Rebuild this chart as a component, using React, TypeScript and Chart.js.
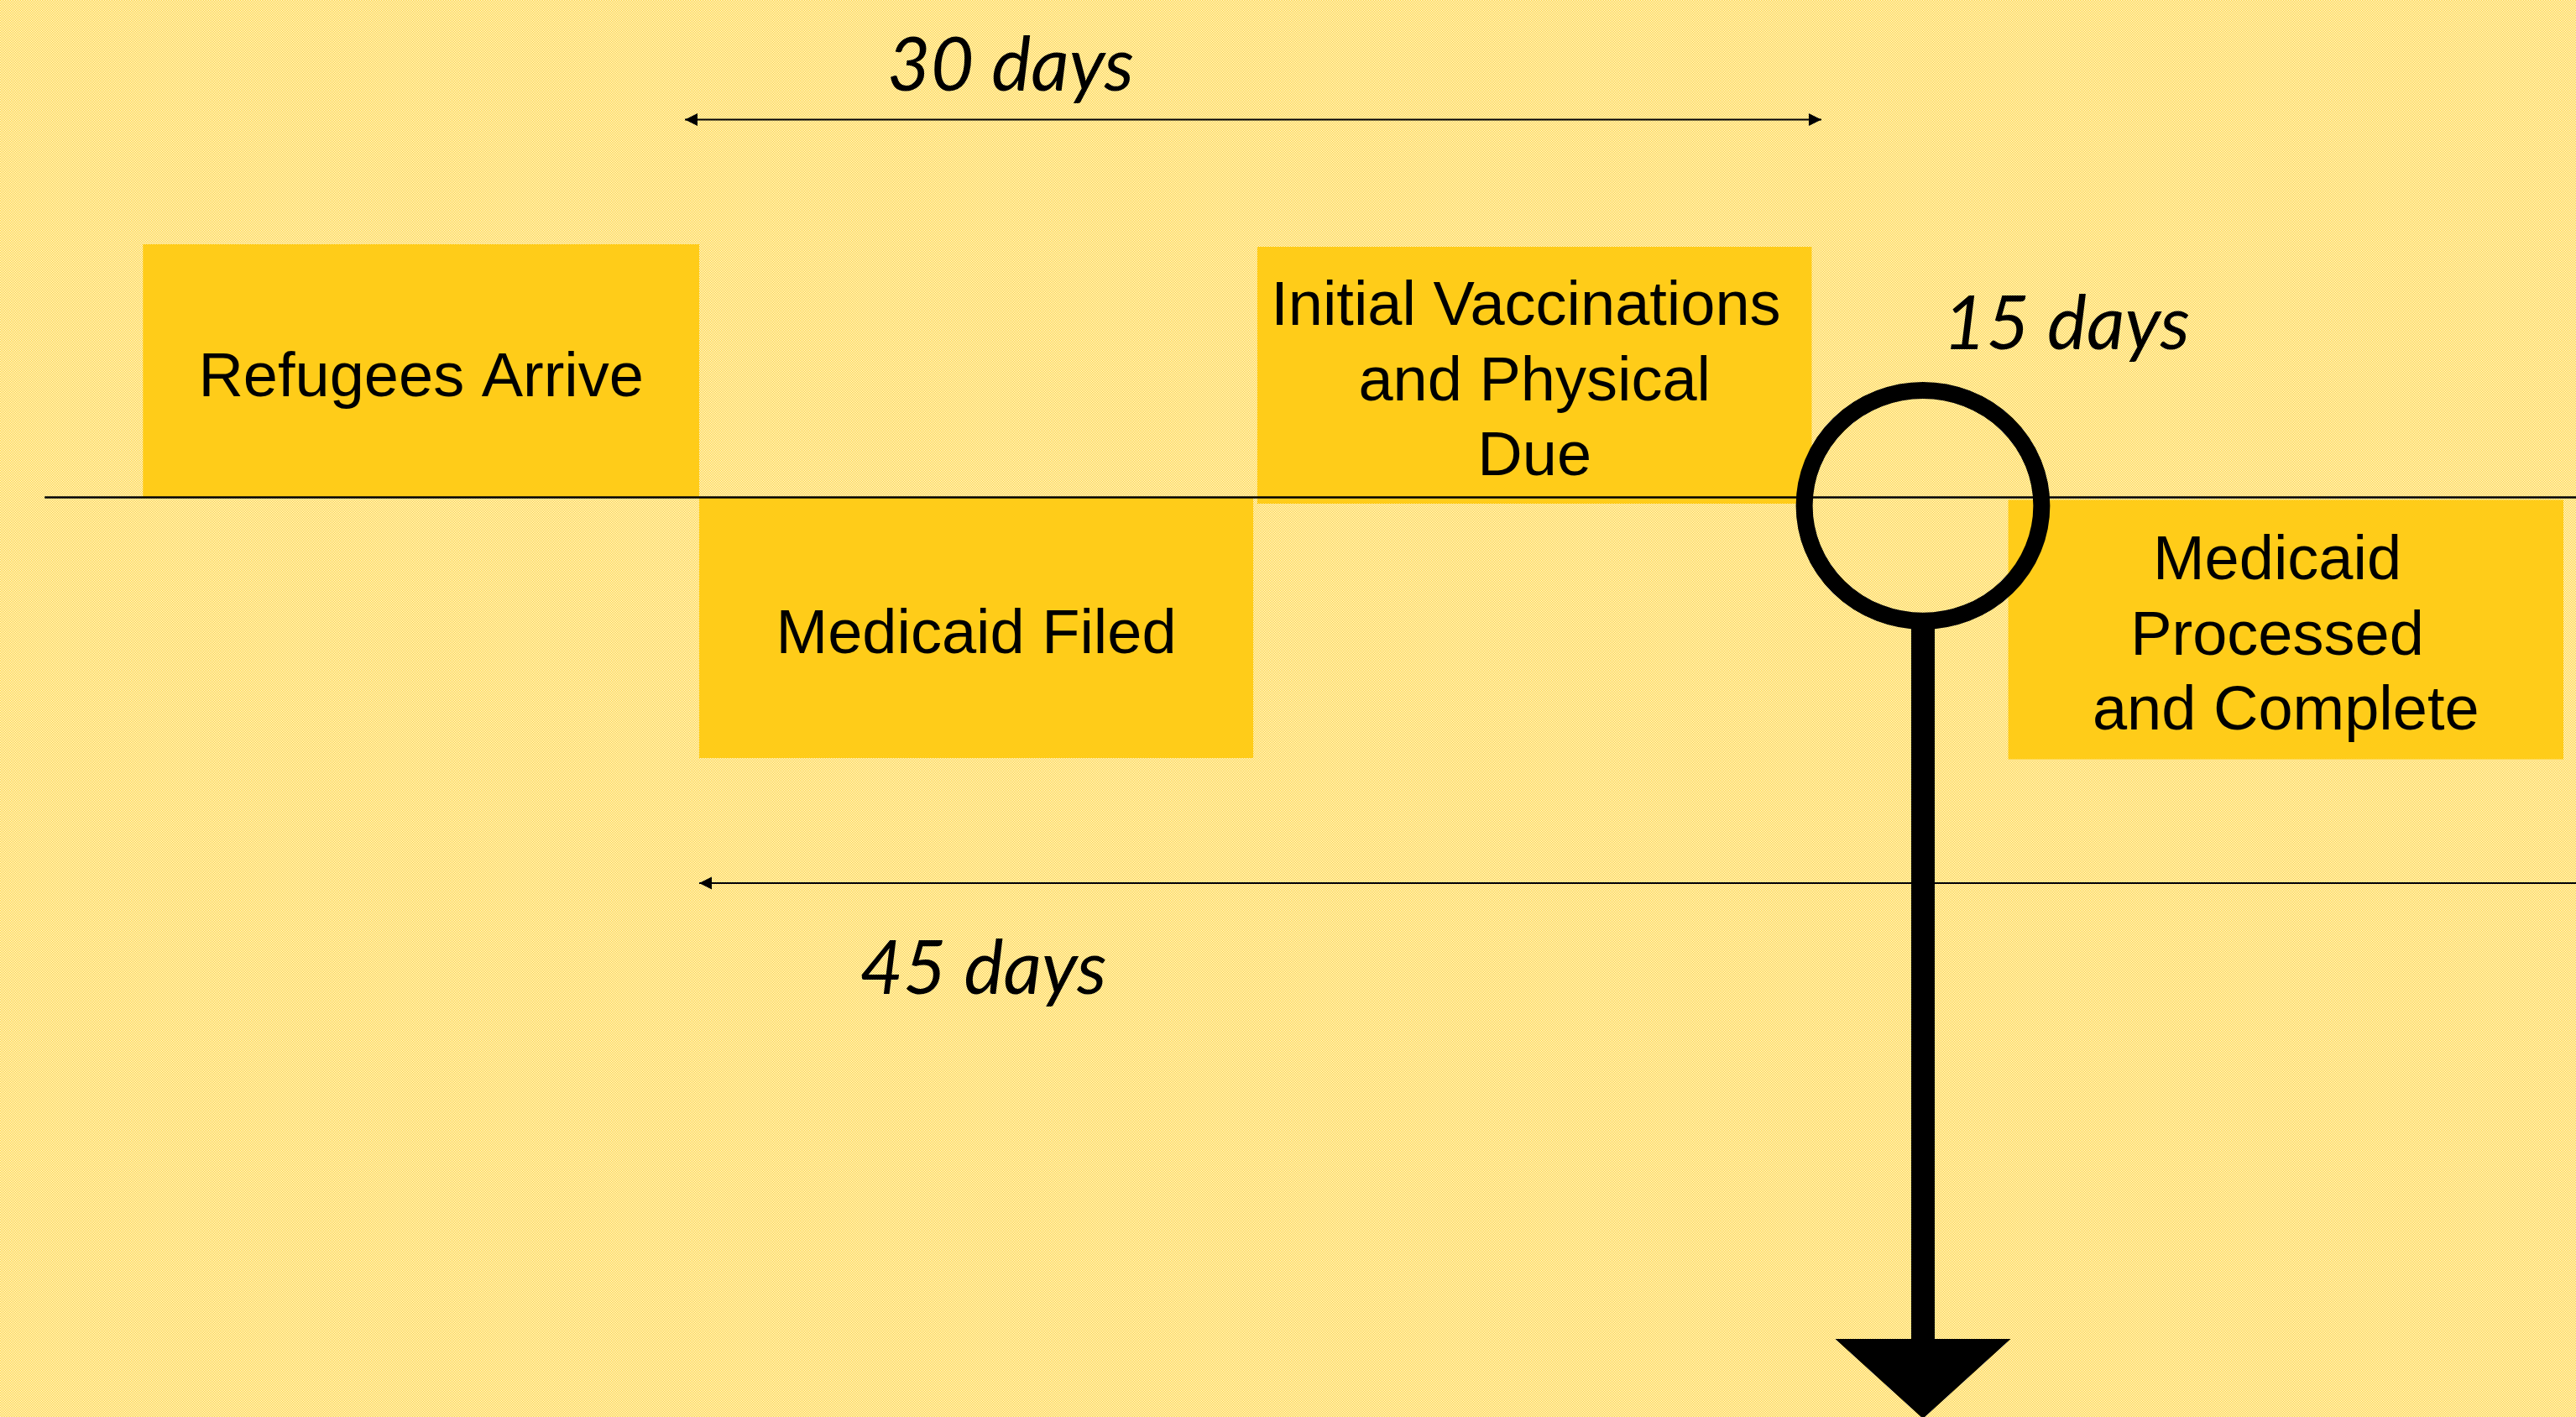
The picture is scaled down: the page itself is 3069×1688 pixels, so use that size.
import React, { useEffect, useRef } from "react";
import { Chart, registerables } from "chart.js";

Chart.register(...registerables);

const W = 3069;
const H = 1688;

// x axis: days counted from Medicaid filing; y axis: lanes from the timeline (+ above, - below)
const stageLabels = [
  ["Refugees Arrive"],
  ["Medicaid Filed"],
  ["Initial Vaccinations ", "and Physical", "Due"],
  ["Medicaid ", "Processed ", "and Complete"],
];
const stageStart = [-15, 0, 15.05, 35.3];
const stageEnd = [0, 14.94, 30, 50.27];
const stageTop = [1.005, 0, 0.995, -0.01];
const stageBottom = [0, -1.035, -0.025, -1.04];

const timelineX = [-17.65, 52];
const timelineY = [0, 0];

const spanLabels = ["30 days", "15 days", "45 days"];
const spanLabelX = [8.4, 36.87, 7.66];
const spanLabelY = [1.615, 0.588, -1.972];

const arrow30X = [-0.385, 30.26];
const arrow30Y = [1.5, 1.5];
const arrow45X = [0, 52];
const arrow45Y = [-1.532, -1.532];

const markerDay = 33;
const markerY = -0.033;
const markerRx = 3.2;
const markerRy = 0.458;
const pointerEndY = -3.342;
const pointerTipY = -3.658;
const pointerHalfWidth = 2.365;

const X_MIN = -18.855;
const X_MAX = 50.61;
const Y_MIN = -3.6517;
const Y_MAX = 1.975;

const YELLOW = "rgb(255,204,25)";
const BOX_FONT = '74px "Liberation Sans", Arial, sans-serif';
const SPAN_FONT = 'italic 89px Lato, "Open Sans", sans-serif';

function pts(xs: number[], ys: number[]) {
  return xs.map((x, i) => ({ x, y: ys[i] }));
}

export default function App() {
  const ref = useRef<HTMLCanvasElement | null>(null);

  useEffect(() => {
    const canvas = ref.current;
    if (!canvas) return;

    const pc = document.createElement("canvas");
    pc.width = 2;
    pc.height = 2;
    const pctx = pc.getContext("2d")!;
    pctx.fillStyle = "#ffffff";
    pctx.fillRect(0, 0, 2, 2);
    pctx.fillStyle = YELLOW;
    pctx.fillRect(0, 0, 1, 1);
    pctx.fillRect(1, 1, 1, 1);

    const diagram = {
      id: "diagram",
      beforeDraw(chart: any) {
        const ctx = chart.ctx;
        ctx.save();
        ctx.fillStyle = ctx.createPattern(pc, "repeat");
        ctx.fillRect(0, 0, chart.width, chart.height);
        ctx.restore();
      },
      beforeDatasetsDraw(chart: any) {
        const ctx = chart.ctx;
        const xs = chart.scales.x;
        const ys = chart.scales.y;
        ctx.save();
        stageLabels.forEach((lines, i) => {
          const x0 = xs.getPixelForValue(stageStart[i]);
          const x1 = xs.getPixelForValue(stageEnd[i]);
          const y0 = ys.getPixelForValue(stageTop[i]);
          const y1 = ys.getPixelForValue(stageBottom[i]);
          ctx.fillStyle = YELLOW;
          ctx.fillRect(x0, y0, x1 - x0, y1 - y0);
          ctx.fillStyle = "#000";
          ctx.font = BOX_FONT;
          ctx.textAlign = "center";
          ctx.textBaseline = "alphabetic";
          const cx = (x0 + x1) / 2;
          const cy = (y0 + y1) / 2;
          const n = lines.length;
          lines.forEach((t, j) => {
            ctx.fillText(t, cx, cy + 30 + (j - (n - 1) / 2) * 89.5);
          });
        });
        ctx.restore();
      },
      afterDatasetsDraw(chart: any) {
        const ctx = chart.ctx;
        const xs = chart.scales.x;
        const ys = chart.scales.y;
        ctx.save();
        ctx.fillStyle = "#000";
        const head = (tx: number, ty: number, dir: number) => {
          ctx.beginPath();
          ctx.moveTo(tx, ty);
          ctx.lineTo(tx + dir * 15, ty - 7.5);
          ctx.lineTo(tx + dir * 15, ty + 7.5);
          ctx.closePath();
          ctx.fill();
        };
        const a30y = ys.getPixelForValue(arrow30Y[0]);
        head(xs.getPixelForValue(arrow30X[0]), a30y, 1);
        head(xs.getPixelForValue(arrow30X[1]), a30y, -1);
        head(xs.getPixelForValue(arrow45X[0]), ys.getPixelForValue(arrow45Y[0]), 1);

        const cx = xs.getPixelForValue(markerDay);
        const cy = ys.getPixelForValue(markerY);
        const rx = xs.getPixelForValue(markerDay + markerRx) - cx;
        const ry = ys.getPixelForValue(markerY - markerRy) - cy;
        ctx.strokeStyle = "#000";
        ctx.lineWidth = 20;
        ctx.beginPath();
        ctx.ellipse(cx, cy, rx, ry, 0, 0, Math.PI * 2);
        ctx.stroke();
        const stemTop = cy + ry + 8;
        const stemBottom = ys.getPixelForValue(pointerEndY);
        ctx.fillRect(cx - 14, stemTop, 28, stemBottom - stemTop + 1);
        const hw = xs.getPixelForValue(markerDay + pointerHalfWidth) - cx;
        ctx.beginPath();
        ctx.moveTo(cx - hw, stemBottom);
        ctx.lineTo(cx + hw, stemBottom);
        ctx.lineTo(cx, ys.getPixelForValue(pointerTipY));
        ctx.closePath();
        ctx.fill();

        ctx.font = SPAN_FONT;
        ctx.textAlign = "center";
        ctx.textBaseline = "alphabetic";
        spanLabels.forEach((t, i) => {
          ctx.fillText(t, xs.getPixelForValue(spanLabelX[i]), ys.getPixelForValue(spanLabelY[i]));
        });
        ctx.restore();
      },
    };

    const chart = new Chart(canvas, {
      type: "scatter",
      data: {
        datasets: [
          { data: pts(timelineX, timelineY), showLine: true, borderColor: "#000", borderWidth: 2.5, pointRadius: 0, clip: false } as any,
          { data: pts(arrow30X, arrow30Y), showLine: true, borderColor: "#000", borderWidth: 2, pointRadius: 0, clip: false } as any,
          { data: pts(arrow45X, arrow45Y), showLine: true, borderColor: "#000", borderWidth: 2, pointRadius: 0, clip: false } as any,
        ],
      },
      options: {
        animation: false,
        responsive: false,
        devicePixelRatio: 1,
        layout: { padding: 0 },
        events: [],
        plugins: { legend: { display: false }, tooltip: { enabled: false } },
        scales: {
          x: { type: "linear", min: X_MIN, max: X_MAX, display: false },
          y: { type: "linear", min: Y_MIN, max: Y_MAX, display: false },
        },
      },
      plugins: [diagram],
    });
    return () => chart.destroy();
  }, []);

  return (
    <div style={{ position: "fixed", left: 0, top: 0, width: W, height: H }}>
      <canvas ref={ref} width={W} height={H} style={{ width: W, height: H, display: "block" }} />
    </div>
  );
}
